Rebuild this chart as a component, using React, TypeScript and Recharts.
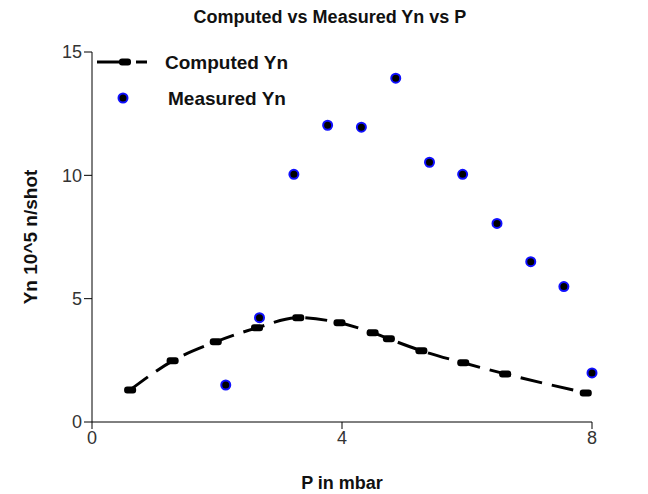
import * as React from 'react';
import {
  ComposedChart,
  Line,
  Scatter,
  XAxis,
  YAxis,
} from 'recharts';

// Computed Yn curve (P in mbar, Yn in 10^5 n/shot)
const computedP = [0.61, 1.29, 1.98, 2.64, 3.3, 3.96, 4.49, 4.75, 5.27, 5.94, 6.61, 7.9];
const computedYn = [1.3, 2.48, 3.25, 3.82, 4.23, 4.02, 3.62, 3.37, 2.89, 2.4, 1.95, 1.18];

// Measured Yn points
const measuredP = [2.14, 2.68, 3.23, 3.77, 4.31, 4.86, 5.4, 5.93, 6.48, 7.02, 7.55, 8.0];
const measuredYn = [1.5, 4.23, 10.04, 12.03, 11.95, 13.94, 10.53, 10.04, 8.05, 6.5, 5.49, 1.99];

const xTicks = [0, 4, 8];
const yTicks = [0, 5, 10, 15];

const computed = computedP.map((p, i) => ({ p, yn: computedYn[i] }));
const measured = measuredP.map((p, i) => ({ p, yn: measuredYn[i] }));

const FONT = '"Liberation Sans", Arial, sans-serif';

const RectDot = (props: any) => {
  const { cx, cy } = props;
  if (cx == null || cy == null) return null;
  return <rect x={cx - 6} y={cy - 3.5} width={12} height={7} rx={3} fill="#000" />;
};

const BlueDot = (props: any) => {
  const { cx, cy } = props;
  return <circle cx={cx} cy={cy} r={4.5} fill="#000" stroke="#1010ff" strokeWidth={2} />;
};

const LegendBox = () => (
  <svg width={240} height={70} style={{ position: 'absolute', left: 92, top: 50, overflow: 'visible' }}>
    <line x1={5} y1={12} x2={30} y2={12} stroke="#000" strokeWidth={3} />
    <rect x={27} y={8.5} width={12} height={7} rx={3} fill="#000" />
    <line x1={44} y1={12} x2={55} y2={12} stroke="#000" strokeWidth={3} />
    <text x={73} y={19} fontFamily={FONT} fontWeight="bold" fontSize={19} fill="#111">
      Computed Yn
    </text>
    <circle cx={31} cy={48} r={4.5} fill="#000" stroke="#1010ff" strokeWidth={2} />
    <text x={76} y={55} fontFamily={FONT} fontWeight="bold" fontSize={19} fill="#111">
      Measured Yn
    </text>
  </svg>
);

export default function App() {
  return (
    <div style={{ position: 'absolute', left: 0, top: 0, width: 648, height: 494, background: '#fff', fontFamily: FONT }}>
      <div
        style={{
          position: 'absolute',
          top: 7,
          left: 0,
          width: 660,
          textAlign: 'center',
          fontWeight: 'bold',
          fontSize: 18,
          color: '#111',
        }}
      >
        Computed vs Measured Yn vs P
      </div>
      <ComposedChart
        width={648}
        height={494}
        margin={{ top: 52, right: 56, bottom: 32, left: 32 }}
      >
        <XAxis
          type="number"
          dataKey="p"
          domain={[0, 8]}
          ticks={xTicks}
          tickSize={7}
          stroke="#000"
          tick={{ fill: '#333', fontSize: 18, fontFamily: FONT }}
          height={40}
          label={{
            value: 'P in mbar',
            position: 'insideBottom',
            offset: -27,
            style: { fontWeight: 'bold', fontSize: 18, fill: '#111', fontFamily: FONT },
          }}
        />
        <YAxis
          type="number"
          dataKey="yn"
          domain={[0, 15]}
          ticks={yTicks}
          tickSize={8}
          width={60}
          stroke="#000"
          tick={{ fill: '#333', fontSize: 18, fontFamily: FONT }}
          label={{
            value: 'Yn 10^5 n/shot',
            angle: -90,
            position: 'insideLeft',
            offset: -2,
            style: { fontWeight: 'bold', fontSize: 19, fill: '#111', fontFamily: FONT, textAnchor: 'middle' },
          }}
        />
        <Line
          data={computed}
          dataKey="yn"
          type="monotone"
          stroke="#000"
          strokeWidth={3}
          strokeDasharray="22 10"
          dot={<RectDot />}
          activeDot={false}
          isAnimationActive={false}
          name="Computed Yn"
        />
        <Scatter
          data={measured}
          dataKey="yn"
          shape={<BlueDot />}
          isAnimationActive={false}
          name="Measured Yn"
        />
      </ComposedChart>
      <LegendBox />
    </div>
  );
}
